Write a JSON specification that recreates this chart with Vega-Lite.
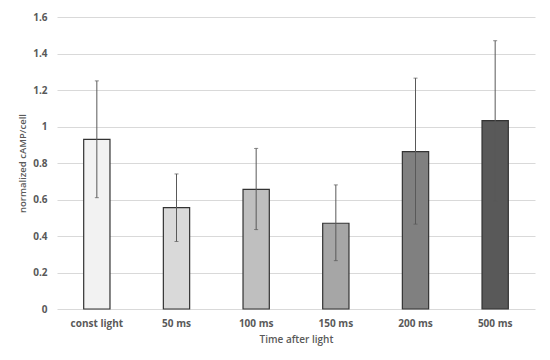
{
  "$schema": "https://vega.github.io/schema/vega-lite/v6.json",
  "autosize": "none",
  "width": 478,
  "height": 292,
  "padding": {"left": 57, "top": 17, "right": 15, "bottom": 51},
  "background": "white",
  "config": {
    "view": {"stroke": null},
    "font": "Open Sans",
    "axis": {"labelFont": "Open Sans", "titleFont": "Open Sans", "labelColor": "#595959", "titleColor": "#595959", "domain": false, "ticks": false, "gridColor": "#d9d9d9", "gridWidth": 1},
    "axisY": {"values": [0, 0.2, 0.4, 0.6, 0.8, 1, 1.2, 1.4, 1.6], "format": ".1~f", "labelOverlap": false, "labelFontSize": 10, "labelFontWeight": 700, "labelPadding": 10, "titleFontSize": 9.5, "titleFontWeight": 600, "titlePadding": 5}
  },
  "data": {
    "values": [
      {"time": "const light", "mean": 0.93, "lo": 0.61, "hi": 1.25, "color": "#f2f2f2"},
      {"time": "50 ms", "mean": 0.555, "lo": 0.37, "hi": 0.74, "color": "#d9d9d9"},
      {"time": "100 ms", "mean": 0.655, "lo": 0.435, "hi": 0.88, "color": "#bfbfbf"},
      {"time": "150 ms", "mean": 0.47, "lo": 0.265, "hi": 0.68, "color": "#a6a6a6"},
      {"time": "200 ms", "mean": 0.862, "lo": 0.465, "hi": 1.265, "color": "#808080"},
      {"time": "500 ms", "mean": 1.032, "lo": 0.59, "hi": 1.47, "color": "#595959"}
    ]
  },
  "encoding": {
    "x": {
      "field": "time", "type": "nominal", "sort": null,
      "scale": {"paddingInner": 0.67, "paddingOuter": 0.335},
      "axis": {"title": "Time after light", "labelAngle": 0, "labelFontSize": 10, "labelFontWeight": 700, "labelPadding": 9, "titleFontSize": 10, "titleFontWeight": 600, "titlePadding": 6, "grid": false}
    }
  },
  "layer": [
    {
      "mark": {"type": "bar", "stroke": "#333333", "strokeWidth": 1.2},
      "encoding": {
        "y": {
          "field": "mean", "type": "quantitative",
          "scale": {"domain": [0, 1.6]},
          "title": "normalized cAMP/cell"
        },
        "fill": {"field": "color", "type": "nominal", "scale": null}
      }
    },
    {
      "mark": {"type": "rule", "color": "#595959", "strokeWidth": 1},
      "encoding": {
        "y": {"field": "lo", "type": "quantitative", "title": "normalized cAMP/cell"},
        "y2": {"field": "hi"}
      }
    },
    {
      "mark": {"type": "tick", "color": "#595959", "thickness": 1, "size": 4},
      "encoding": {
        "y": {"field": "hi", "type": "quantitative", "title": "normalized cAMP/cell"}
      }
    },
    {
      "mark": {"type": "tick", "color": "#595959", "thickness": 1, "size": 4},
      "encoding": {
        "y": {"field": "lo", "type": "quantitative", "title": "normalized cAMP/cell"}
      }
    }
  ]
}
